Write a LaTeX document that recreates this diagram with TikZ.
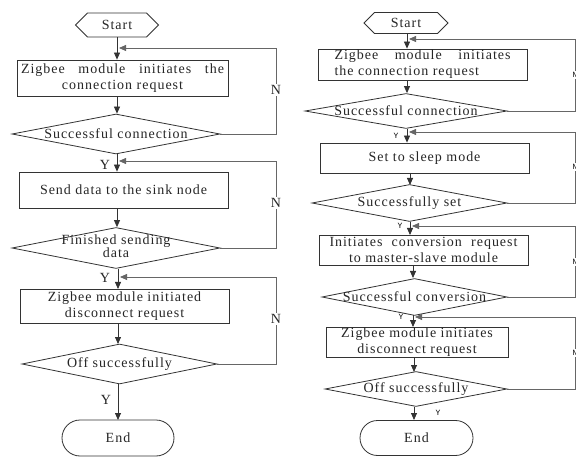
\documentclass[tikz,border=0pt]{standalone}
\usepackage{fontspec}
\setmainfont[LetterSpace=7]{Liberation Serif}
\newfontfamily\ymono{Liberation Mono}
\usetikzlibrary{shapes.geometric,shapes.misc,shapes.symbols,arrows.meta}
\begin{document}
\begin{tikzpicture}[x=1pt,y=-1pt,
  base/.style={draw=black!80, line width=0.8pt, font=\fontsize{14}{16}\selectfont, text=black!85, inner sep=0pt},
  proc/.style={base, rectangle, align=center},
  dec/.style={base, diamond},
  startbox/.style={base, signal, signal to=west and east, signal pointer angle=90},
  endbox/.style={base, rounded rectangle},
  line/.style={draw=black!80, line width=0.8pt},
  arr/.style={line, -{Triangle[length=7pt,width=6pt]}},
  garr/.style={arr, draw=black!60},
  lab/.style={font=\fontsize{14}{16}\selectfont, text=black!85, fill=white, inner sep=1pt},
  slab/.style={font=\ymono\fontsize{8}{9}\selectfont, fill=white, inner sep=1pt}]
\useasboundingbox[fill=white] (0,0) rectangle (576,457);

% ---------------- left chart ----------------
\coordinate (ax) at (117,0);
\coordinate (rx) at (276,0);
\node[startbox, minimum width=83, minimum height=24] (s1) at (117,25) {Start};
\node[proc, minimum width=211, minimum height=36] (a1) at (122.5,78)
  {\makebox[203pt][s]{Zigbee module initiates the}\\connection request};
\node[dec, minimum width=208, minimum height=40] (c1) at (116,134)
  {\makebox[0pt]{Successful connection}};
\node[proc, minimum width=209, minimum height=36] (a2) at (123.5,190)
  {Send data to the sink node};
\node[dec, minimum width=208, minimum height=41] (c2) at (116,248)
  {\makebox[0pt]{\raisebox{-5pt}{\begin{tabular}{@{}c@{}}Finished sending\\[-3pt]data\end{tabular}}}};
\node[proc, minimum width=209, minimum height=34] (a3) at (124.5,306)
  {Zigbee module initiated\\disconnect request};
\node[dec, minimum width=195, minimum height=40] (c3) at (119.5,364)
  {\makebox[0pt]{Off successfully}};
\node[endbox, minimum width=112, minimum height=36] (e1) at (118,438) {End};

\draw[arr] (ax |- s1.south) -- (ax |- a1.north);
\draw[arr] (ax |- a1.south) -- (ax |- c1.north);
\draw[arr] (ax |- c1.south) -- (ax |- a2.north);
\draw[arr] (ax |- a2.south) -- (ax |- c2.north);
\draw[arr] (118,269) -- (118,289);
\draw[arr] (118,323) -- (118,344);
\draw[arr] (118,384) -- (118,420);

\coordinate (f1) at (119,48);
\coordinate (f2) at (119,161);
\coordinate (f3) at (120,277);
\draw[garr] (c1.east) -- (c1.east -| rx) |- (f1);
\draw[garr] (c2.east) -- (c2.east -| rx) |- (f2);
\draw[garr] (c3.east) -- (c3.east -| rx) |- (f3);

\node[lab] (n1) at (276,90) {N};
\node[lab] (n2) at (276,203) {N};
\node[lab] (n3) at (276,319) {N};
\node[lab, fill=none] (y1) at (105,165) {Y};
\node[lab, fill=none] (y2) at (105,278) {Y};
\node[lab, fill=none] (y3) at (106,400) {Y};

% ---------------- right chart ----------------
\coordinate (bx) at (407,0);
\coordinate (sx) at (575,0);
\node[startbox, minimum width=84, minimum height=21] (s2) at (406,23) {Start};
\node[proc, minimum width=209, minimum height=31, align=left] (b1) at (422.5,64.5)
  {\makebox[176pt][s]{Zigbee module initiates}\\the connection request};
\node[dec, minimum width=202, minimum height=35] (d1) at (406,111)
  {\makebox[0pt]{Successful connection}};
\node[proc, minimum width=209, minimum height=30] (b2) at (424.5,158)
  {Set to sleep mode};
\node[dec, minimum width=195, minimum height=37] (d2) at (409.5,203)
  {\makebox[0pt]{Successfully set}};
\node[proc, minimum width=209, minimum height=30] (b3) at (423.5,250)
  {\makebox[188pt][s]{Initiates conversion request}\\to master-slave module};
\node[dec, minimum width=185, minimum height=37] (d3) at (414.5,297)
  {\makebox[0pt]{Successful conversion}};
\node[proc, minimum width=182, minimum height=30] (b4) at (417,342)
  {Zigbee module initiates\\disconnect request};
\node[dec, minimum width=182, minimum height=35] (d4) at (416,389)
  {\makebox[0pt]{Off successfully}};
\node[endbox, minimum width=113, minimum height=35] (e2) at (416.5,438) {End};

\draw[arr] (bx |- s2.south) -- (bx |- b1.north);
\draw[arr] (bx |- b1.south) -- (bx |- d1.north);
\draw[arr] (bx |- d1.south) -- (bx |- b2.north);
\draw[arr] (410,173) -- (410,185);
\draw[arr] (410,222) -- (410,235);
\draw[arr] (413,265) -- (413,278);
\draw[arr] (413,315) -- (413,327);
\draw[arr] (414,357) -- (414,372);
\draw[arr] (414,407) -- (414,420);

\coordinate (g1) at (409,39);
\coordinate (g2) at (409,132);
\coordinate (g3) at (412,226);
\coordinate (g4) at (415,317);
\draw[garr] (d1.east) -- (d1.east -| sx) |- (g1);
\draw[garr] (d2.east) -- (d2.east -| sx) |- (g2);
\draw[garr] (d3.east) -- (d3.east -| sx) |- (g3);
\draw[garr] (d4.east) -- (d4.east -| sx) |- (g4);

\node[slab] (m1) at (575,75) {N};
\node[slab] (m2) at (575,167) {N};
\node[slab] (m3) at (575,262) {N};
\node[slab] (m4) at (575,353) {N};
\node[slab, fill=none] (z1) at (396,136) {Y};
\node[slab, fill=none] (z2) at (400,226) {Y};
\node[slab, fill=none] (z3) at (401,317) {Y};
\node[slab, fill=none] (z4) at (438,413) {Y};
\end{tikzpicture}
\end{document}
